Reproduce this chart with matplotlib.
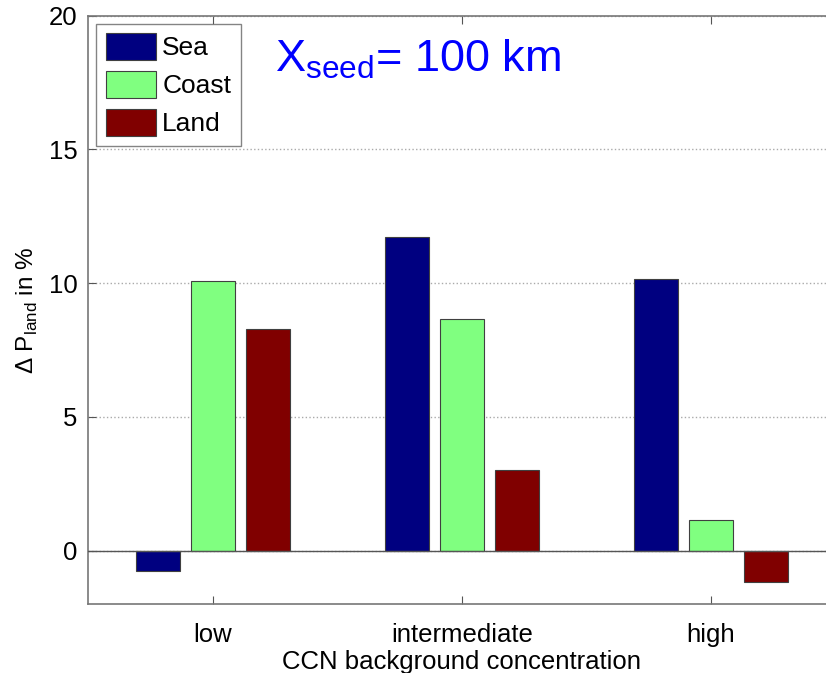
import matplotlib
matplotlib.use("Agg")
import matplotlib.pyplot as plt
import numpy as np

plt.rcParams['font.family'] = ['Liberation Sans', 'DejaVu Sans']
plt.rcParams['mathtext.fontset'] = 'custom'
plt.rcParams['mathtext.rm'] = 'Liberation Sans'

# data
categories = ['low', 'intermediate', 'high']
sea = [-0.78, 11.72, 10.15]
coast = [10.08, 8.66, 1.16]
land = [8.28, 3.03, -1.17]
series_names = ['Sea', 'Coast', 'Land']
colors = ['#000080', '#80ff80', '#800000']

fig = plt.figure(figsize=(8.26, 6.73), dpi=100)
ax = fig.add_axes([0.107, 0.1025, 0.904, 0.874])

x = np.arange(1, len(categories) + 1)
w = 0.177
offs = [-0.221, 0.0, 0.221]
for vals, name, col, o in zip([sea, coast, land], series_names, colors, offs):
    ax.bar(x + o, vals, w, color=col, edgecolor='#404040', linewidth=0.8,
           label=name, zorder=3)

ax.axhline(0, color='#555555', linewidth=1.0, zorder=4)
ax.set_xlim(0.5, 3.5)
ax.set_ylim(-2, 20)
ax.set_yticks([0, 5, 10, 15, 20])
ax.set_xticks(x)
ax.set_xticklabels(categories)
ax.yaxis.grid(True, linestyle=':', color='#aaaaaa', linewidth=1.0, zorder=0)
ax.tick_params(direction='in', length=6, colors='#555555', labelcolor='black',
               labelsize=18.5)
ax.tick_params(axis='x', pad=14)
ax.tick_params(axis='y', pad=8)
ax.tick_params(top=True)
for s in ax.spines.values():
    s.set_color('#777777')
    s.set_linewidth(1.2)

ax.set_xlabel('CCN background concentration', fontsize=18.5, labelpad=2)
ax.set_ylabel(r'$\Delta$ P$_{\mathrm{land}}$ in %', fontsize=17.5, labelpad=6)

leg = ax.legend(loc='upper left', fontsize=19, frameon=True, fancybox=False,
                edgecolor='#666666', handlelength=1.9, handleheight=1.2,
                borderaxespad=0.3, labelspacing=0.4, handletextpad=0.25,
                borderpad=0.35)
leg.get_frame().set_linewidth(1.0)

ax.text(0.25, 0.905, r'X$_{\mathrm{seed}}$= 100 km', transform=ax.transAxes,
        color='#0000ff', fontsize=32.5, va='baseline', ha='left')

fig.savefig('out.png', dpi=100)
